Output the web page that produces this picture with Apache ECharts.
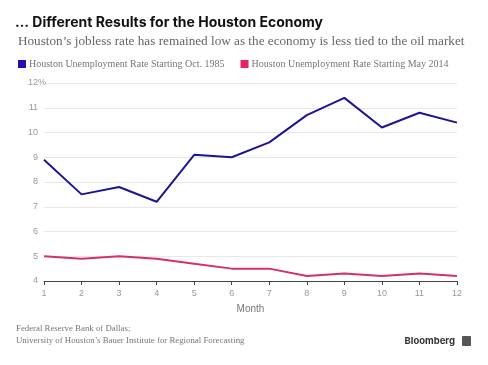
<!DOCTYPE html>
<html><head><meta charset="utf-8">
<script src="https://cdn.jsdelivr.net/npm/echarts@6/dist/echarts.min.js"></script>
<style>html,body{margin:0;padding:0;background:#fff}#c{width:488px;height:365px}</style>
</head><body><div id="c"></div>
<script>
const months = ['1','2','3','4','5','6','7','8','9','10','11','12'];
const rate1985 = [8.9, 7.5, 7.8, 7.2, 9.1, 9.0, 9.6, 10.7, 11.4, 10.2, 10.8, 10.4];
const rate2014 = [5.0, 4.9, 5.0, 4.9, 4.7, 4.5, 4.5, 4.2, 4.3, 4.2, 4.3, 4.2];
const yTicks = [4, 5, 6, 7, 8, 9, 10, 11, 12];
const seriesNames = ['Houston Unemployment Rate Starting Oct. 1985', 'Houston Unemployment Rate Starting May 2014'];

const chart = echarts.init(document.getElementById('c'), null, {renderer: 'canvas'});
chart.setOption({
  animation: false,
  title: [{
    text: '… Different Results for the Houston Economy',
    left: 10, top: 11,
    textStyle: {fontFamily: 'Inter', fontWeight: 'bold', fontSize: 14, color: '#111'}
  }, {
    text: 'Houston’s jobless rate has remained low as the economy is less tied to the oil market',
    left: 13, top: 30,
    textStyle: {fontFamily: 'Liberation Serif', fontWeight: 'normal', fontSize: 13.2, color: '#666'}
  }],
  legend: {
    left: 13, top: 54, itemWidth: 8, itemHeight: 8, itemGap: 16, icon: 'rect',
    textStyle: {fontFamily: 'Liberation Serif', fontSize: 10, color: '#777', padding: [0, 0, 0, -2]},
    data: seriesNames
  },
  grid: {left: 44, right: 31, top: 83, bottom: 84, containLabel: false},
  xAxis: {
    type: 'category', data: months, boundaryGap: false,
    name: 'Month', nameLocation: 'middle', nameGap: 23,
    nameTextStyle: {fontFamily: 'Liberation Sans', fontSize: 10, color: '#777'},
    axisLine: {lineStyle: {color: '#444', width: 1}},
    axisTick: {show: true, alignWithLabel: true, length: 4, lineStyle: {color: '#444'}},
    axisLabel: {fontFamily: 'Liberation Sans', fontSize: 9, color: '#999', margin: 8},
    splitLine: {show: false}
  },
  yAxis: {
    type: 'value', min: 4, max: 12, interval: 1,
    axisLine: {show: false}, axisTick: {show: false},
    axisLabel: {fontFamily: 'Liberation Sans', fontSize: 9, color: '#999', margin: 6,
      formatter: v => yTicks.indexOf(v) >= 0 ? (v === 12 ? '12{p|%}' : String(v)) : '',
      rich: {p: {padding: [0, -8, 0, 0], fontFamily: 'Liberation Sans', fontSize: 9, color: '#999'}}},
    splitLine: {lineStyle: {color: '#e8e8e8', width: 1}}
  },
  series: [{
    name: seriesNames[0], type: 'line', data: rate1985, symbol: 'none',
    lineStyle: {color: '#1e1496', width: 2}, itemStyle: {color: '#2210b4'}
  }, {
    name: seriesNames[1], type: 'line', data: rate2014, symbol: 'none',
    lineStyle: {color: '#d2306e', width: 2}, itemStyle: {color: '#e8206a'}
  }],
  graphic: [{
    type: 'text', left: 16, top: 323,
    style: {text: 'Federal Reserve Bank of Dallas;\nUniversity of Houston’s Bauer Institute for Regional Forecasting',
      fontFamily: 'Liberation Serif', fontSize: 8.8, lineHeight: 11.5, fill: '#777'}
  }, {
    type: 'text', right: 33, top: 336,
    style: {text: 'Bloomberg', fontFamily: 'Inter', fontWeight: 'bold', fontSize: 9.5, fill: '#333'}
  }, {
    type: 'rect', left: 462, top: 336, shape: {width: 9, height: 10, r: 1}, style: {fill: '#555'}
  }]
});
</script></body></html>
